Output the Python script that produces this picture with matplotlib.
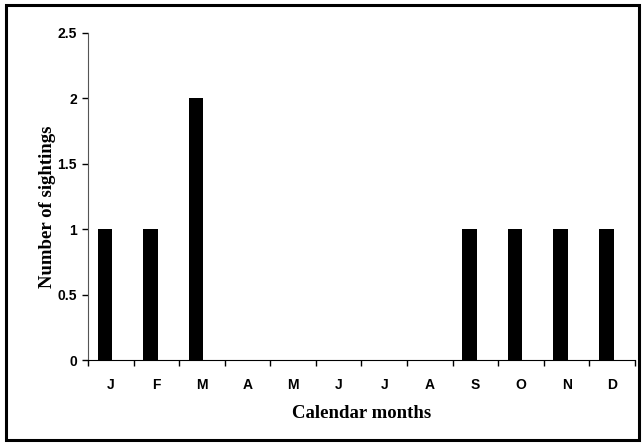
import numpy as np
import matplotlib.pyplot as plt
from matplotlib.patches import Rectangle

months = ['J', 'F', 'M', 'A', 'M', 'J', 'J', 'A', 'S', 'O', 'N', 'D']
sightings = [1, 1, 2, 0, 0, 0, 0, 0, 1, 1, 1, 1]

fig = plt.figure(figsize=(6.42, 4.43), dpi=100)
ax = fig.add_axes([0.137, 0.187, 0.852, 0.739])

x = np.arange(len(months))
ax.bar(x - 0.13, sightings, width=0.32, color='black')

ax.set_xlim(-0.5, len(months) - 0.5)
ax.set_ylim(0, 2.5)
ax.set_yticks([0, 0.5, 1, 1.5, 2, 2.5])
ax.set_yticklabels(['0', '0.5', '1', '1.5', '2', '2.5'])
ax.set_xticks(x)
ax.set_xticklabels(months)
ax.set_xticks(np.arange(-0.5, len(months)), minor=True)
ax.tick_params(axis='x', which='major', length=0, pad=13)
ax.tick_params(axis='x', which='minor', length=4, width=1, direction='out')
ax.tick_params(axis='y', length=4, width=1, direction='out', pad=4)

for lab in ax.get_xticklabels() + ax.get_yticklabels():
    lab.set_fontfamily('Liberation Sans')
    lab.set_fontweight('bold')
    lab.set_fontsize(10)

ax.spines['top'].set_visible(False)
ax.spines['right'].set_visible(False)
ax.spines['left'].set_color('#555555')

ax.set_xlabel('Calendar months', fontfamily='Liberation Serif', fontweight='bold',
              fontsize=13.5)
ax.set_ylabel('Number of sightings', fontfamily='Liberation Serif', fontweight='bold',
              fontsize=13.5)
ax.xaxis.set_label_coords(0.5, -0.138)
ax.yaxis.set_label_coords(-0.058, 0.47)

# outer frame round the whole chart
fig.patches.append(Rectangle((6 / 642, 3 / 443), 633 / 642, 435 / 443,
                             transform=fig.transFigure, fill=False,
                             edgecolor='black', linewidth=2.2))

fig.savefig('out.png', dpi=100)
